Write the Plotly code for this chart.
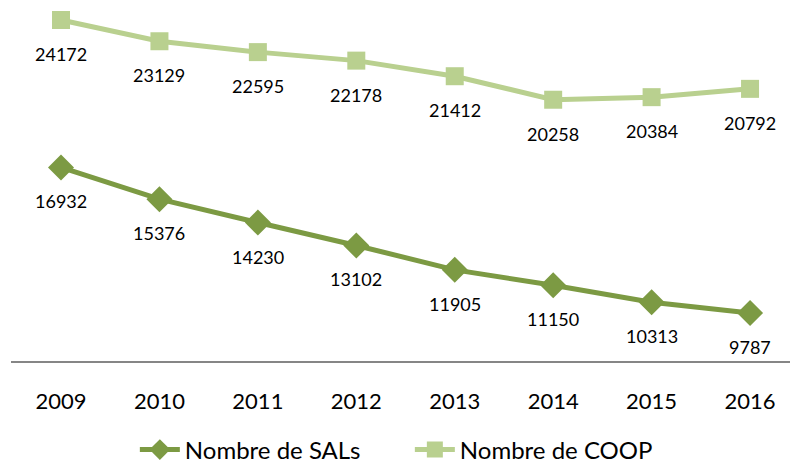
import plotly.graph_objects as go

years = ["2009", "2010", "2011", "2012", "2013", "2014", "2015", "2016"]
sals = [16932, 15376, 14230, 13102, 11905, 11150, 10313, 9787]
coop = [24172, 23129, 22595, 22178, 21412, 20258, 20384, 20792]

xs = list(range(len(years)))
FONT = "Lato"
dark = "#7c9a43"
light = "#b9d08f"

fig = go.Figure()
fig.add_trace(go.Scatter(
    x=xs, y=sals, name="Nombre de SALs", mode="lines+markers",
    line=dict(color=dark, width=5),
    marker=dict(symbol="diamond", size=20, color=dark),
    cliponaxis=False,
))
fig.add_trace(go.Scatter(
    x=xs, y=coop, name="Nombre de COOP", mode="lines+markers",
    line=dict(color=light, width=5),
    marker=dict(symbol="square", size=18, color=light),
    cliponaxis=False,
))

for series in (sals, coop):
    for xi, v in zip(xs, series):
        fig.add_annotation(x=xi, y=v, text=str(v), showarrow=False,
                           yshift=-34, font=dict(family=FONT, size=18, color="#000"))

fig.update_layout(
    width=790, height=464,
    margin=dict(l=11, r=0, t=10, b=103, autoexpand=False),
    paper_bgcolor="white", plot_bgcolor="white",
    font=dict(family=FONT, color="#000"),
    showlegend=True,
    legend=dict(orientation="h", x=0.512, xanchor="center", y=-0.2536, yanchor="middle",
                font=dict(family=FONT, size=24), itemwidth=40, traceorder="normal",
                entrywidth=220, entrywidthmode="pixels"),
    xaxis=dict(range=[-0.508, 7.406], tickvals=xs, ticktext=years,
               showgrid=False, zeroline=False, showline=True,
               linecolor="#868686", linewidth=2, ticks="",
               ticklabelstandoff=20, automargin=False,
               tickfont=dict(family=FONT, size=22, color="#000")),
    yaxis=dict(range=[7431, 24663], visible=False, showgrid=False, zeroline=False,
               automargin=False),
)

fig.write_html("out.html", config={"displayModeBar": False},
               post_script="document.body.style.margin='0';document.body.style.overflow='hidden';")
